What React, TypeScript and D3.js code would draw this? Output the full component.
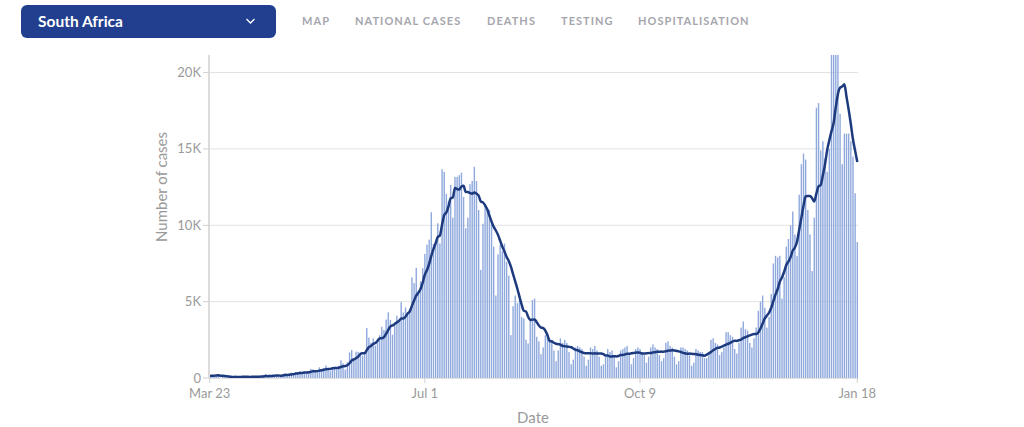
import React from 'react';
import * as d3 from 'd3';

// ---------- data ----------
const START_DATE = '2020-03-23';
// daily new cases, Mar 23 2020 .. Jan 18 2021 (weeks Mon..Sun)
const dailyCases: number[] = [
  128, 152, 155, 218, 243, 17, 93,
  46, 27, 27, 82, 120, 123, 50,
  51, 80, 96, 52, 87, 69, 145,
  28, 143, 99, 68, 178, 251, 88,
  124, 165, 142, 203, 170, 139, 207,
  318, 197, 265, 354, 297, 385, 329,
  437, 274, 424, 352, 424, 595, 562,
  416, 338, 698, 511, 665, 817, 654,
  445, 672, 762, 566, 803, 1160, 958,
  555, 1032, 1673, 1837, 1288, 1727, 1716,
  1674, 1455, 1649, 3267, 2642, 2312, 2594,
  2125, 2430, 2801, 3359, 3147, 3825, 4302,
  3809, 2834, 3505, 4078, 3800, 4966, 4288,
  4621, 4288, 4518, 6579, 6215, 7210, 5688,
  6334, 7188, 8124, 8728, 9063, 10853, 8773,
  8971, 10134, 8810, 13674, 13497, 12058, 11554,
  12640, 10496, 13172, 13172, 13285, 13449, 11855,
  9800, 10500, 12700, 12900, 13830, 12900, 11000,
  7070, 10100, 11360, 11046, 11000, 10100, 8600,
  5400, 8100, 8700, 8300, 8800, 7600, 6700,
  2810, 4700, 5400, 4900, 5100, 4000, 3900,
  2500, 2260, 3900, 5100, 5200, 2700, 2400,
  1560, 2000, 2800, 2900, 2600, 2500, 1800,
  1100, 1800, 2600, 2300, 2500, 2300, 1700,
  900, 1200, 2000, 2100, 2000, 1900, 1400,
  800, 1200, 2000, 1900, 2100, 1800, 1400,
  800, 900, 1400, 1900, 1700, 1800, 1500,
  700, 1100, 1800, 1900, 2000, 2100, 1500,
  900, 1300, 1900, 2000, 1900, 1700, 1500,
  1000, 1400, 2000, 2200, 2000, 1900, 1500,
  1100, 1300, 2300, 2400, 2100, 2000, 1400,
  900, 1100, 2000, 2000, 1900, 1800, 1500,
  800, 1000, 1900, 1800, 1700, 1700, 1300,
  1300, 1600, 2500, 2600, 2300, 2200, 1500,
  1700, 2000, 3000, 3000, 2800, 2700, 1900,
  1600, 2300, 3300, 3700, 3200, 3100, 2300,
  2000, 2600, 3300, 4400, 5000, 5400, 4600,
  3300, 4000, 5500, 7500, 8000, 7900, 8000,
  5200, 6600, 8600, 9100, 10000, 10900, 9400,
  8000, 12000, 14000, 14700, 14300, 11000, 9400,
  7000, 10500, 17700, 18000, 14900, 15500, 14400,
  13500, 15000, 21800, 21900, 22000, 21600, 17300,
  14000, 16000, 16000, 16000, 15500, 14500, 12100,
  8900,
];
const yTickValues = [0, 5000, 10000, 15000, 20000];
const xTickDates = ['2020-03-23', '2020-07-01', '2020-10-09', '2021-01-18'];
const navItems = ['MAP', 'NATIONAL CASES', 'DEATHS', 'TESTING', 'HOSPITALISATION'];
const countryName = 'South Africa';
const yAxisTitle = 'Number of cases';
const xAxisTitle = 'Date';
const Y_MAX = 21150;
const AVG_WINDOW = 7;

// ---------- layout ----------
const W = 1024;
const H = 427;
const plot = { left: 209, right: 858, top: 55, bottom: 378 };
const navX = [302, 355, 487, 561, 638];
const FONT = 'Lato, "Open Sans", sans-serif';

export default function App() {
  const parse = d3.timeParse('%Y-%m-%d');
  const start = parse(START_DATE) as Date;
  const dates = dailyCases.map((_, i) => d3.timeDay.offset(start, i));
  const keys = dates.map((d) => d3.timeFormat('%Y-%m-%d')(d));

  const x = d3.scaleBand<string>().domain(keys).range([plot.left, plot.right]).paddingInner(0.35).paddingOuter(0);
  const y = d3.scaleLinear().domain([0, Y_MAX]).range([plot.bottom, plot.top]);
  const bw = x.bandwidth();
  const cx = (k: string) => (x(k) as number) + bw / 2;

  const avg = dailyCases.map((_, i) => {
    const s = dailyCases.slice(Math.max(0, i - AVG_WINDOW + 1), i + 1);
    return d3.mean(s) as number;
  });
  const linePath = d3
    .line<number>()
    .x((_, i) => cx(keys[i]))
    .y((d) => y(d))
    .curve(d3.curveMonotoneX)(avg) as string;

  const fmtY = (v: number) => (v === 0 ? '0' : `${v / 1000}K`);
  const fmtX = d3.timeFormat('%b %-d');

  return (
    <svg width={W} height={H} style={{ position: 'absolute', left: 0, top: 0, background: '#fff' }} fontFamily={FONT}>
      <defs>
        <clipPath id="plotClip">
          <rect x={plot.left - 2} y={plot.top} width={plot.right - plot.left + 4} height={plot.bottom - plot.top + 2} />
        </clipPath>
      </defs>

      {/* header */}
      <rect x={21} y={5} width={255} height={33} rx={6} fill="#213f8e" />
      <text x={38} y={26.5} fill="#fff" fontSize={15.5} fontWeight={700}>{countryName}</text>
      <path d="M246.5,19 L250.5,23 L254.5,19" fill="none" stroke="#fff" strokeWidth={1.3} />
      {navItems.map((t, i) => (
        <text key={t} x={navX[i]} y={25} fill="#a6a6ae" fontSize={11} fontWeight={700} letterSpacing={1.05}>{t}</text>
      ))}

      {/* grid */}
      {yTickValues.filter((v) => v > 0).map((v) => (
        <line key={v} x1={plot.left} x2={plot.right} y1={y(v)} y2={y(v)} stroke="#e2e2e2" strokeWidth={1} />
      ))}

      {/* bars */}
      <g clipPath="url(#plotClip)">
        {dailyCases.map((v, i) => (
          <rect key={keys[i]} x={x(keys[i])} y={y(v)} width={bw} height={plot.bottom - y(v)} fill="#8fa9dd" />
        ))}
        <path d={linePath} fill="none" stroke="#1e3a7e" strokeWidth={2.5} strokeLinejoin="round" />
      </g>

      {/* axes */}
      <line x1={plot.left} x2={plot.left} y1={plot.top} y2={plot.bottom} stroke="#dcdcdc" strokeWidth={2} />
      <line x1={plot.left} x2={plot.right} y1={plot.bottom + 0.5} y2={plot.bottom + 0.5} stroke="#e0e0e0" strokeWidth={1} />
      {yTickValues.map((v) => (
        <g key={v}>
          <line x1={plot.left - 6} x2={plot.left} y1={y(v)} y2={y(v)} stroke="#d0d0d0" />
          <text x={plot.left - 8} y={y(v)} dy="0.35em" textAnchor="end" fontSize={13} fill="#9a9a9a">{fmtY(v)}</text>
        </g>
      ))}
      {xTickDates.map((s) => {
        const px = cx(s);
        return (
          <g key={s}>
            <line x1={px} x2={px} y1={plot.bottom} y2={plot.bottom + 5} stroke="#d0d0d0" />
            <text x={px} y={398} textAnchor="middle" fontSize={13} fill="#9a9a9a">{fmtX(parse(s) as Date)}</text>
          </g>
        );
      })}
      <text transform="translate(167,187) rotate(-90)" textAnchor="middle" fontSize={15} fill="#9a9a9a">{yAxisTitle}</text>
      <text x={533} y={423} textAnchor="middle" fontSize={15} fill="#9a9a9a">{xAxisTitle}</text>
    </svg>
  );
}
